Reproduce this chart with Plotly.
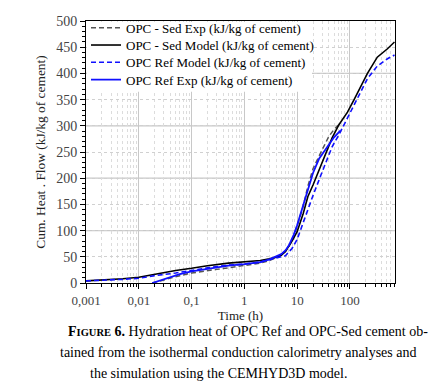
import math
import plotly.graph_objects as go

# ---- data ----
t_model = [0.001, 0.002, 0.005, 0.01, 0.02, 0.05, 0.1, 0.2, 0.5, 1, 2, 3, 4, 5, 6, 8,
           10, 13, 16, 20, 28, 35, 46, 62, 90, 120, 160, 215, 330, 515, 700]
sed_model = [4, 5.5, 8, 11, 17, 24, 28, 33, 38, 40, 43, 46, 49, 53, 60, 80,
             98, 132, 165, 187, 222, 245, 277, 302, 326, 350, 376, 400, 431, 447, 460]
ref_model = [4, 5, 7, 9, 14, 19, 24, 29, 34, 36, 40, 44, 47, 49, 52, 66,
             83, 115, 142, 167, 205, 229, 260, 283, 315, 340, 364, 390, 414, 428, 435]

t_exp = [0.018, 0.025, 0.04, 0.06, 0.1, 0.2, 0.3, 0.5, 1, 2, 3, 4, 5, 6, 7, 8.6,
         10, 13, 16, 20, 26, 33, 40, 50, 66]
ref_exp = [0, 5, 11, 17, 22, 27, 30, 33, 36, 40, 45, 50, 55, 62, 72, 92,
           110, 148, 180, 210, 237, 252, 265, 278, 291]
sed_exp = [0, 4, 9, 14, 19, 24, 26, 29, 33, 38, 43, 48, 53, 60, 70, 88,
           108, 146, 185, 218, 242, 262, 280, 293, 305]

x_tickvals = [0.001, 0.01, 0.1, 1, 10, 100]
x_ticktext = ["0,001", "0,01", "0,1", "1", "10", "100"]
x_minor = [k * 10 ** e for e in range(-3, 3) for k in range(2, 10)]
y_grid_major = [100, 200, 300, 400]

FONT = "Liberation Serif"
OFF = 8  # page body margin of the html page

series = [
    (t_exp, sed_exp, "OPC - Sed Exp (kJ/kg of cement)", dict(color="#555555", width=1.5, dash="5px,3px")),
    (t_model, sed_model, "OPC - Sed Model (kJ/kg of cement)", dict(color="#000000", width=1.6)),
    (t_model, ref_model, "OPC Ref Model (kJ/kg of cement)", dict(color="#1010ff", width=1.6, dash="5px,3px")),
    (t_exp, ref_exp, "OPC Ref Exp (kJ/kg of cement)", dict(color="#1010ff", width=1.8)),
]
legend_rows_px = [20, 37.8, 55.6, 73.4]

fig = go.Figure()
legend_layout = {}
for i, (xs, ys, name, line) in enumerate(series):
    key = "legend" if i == 0 else f"legend{i + 1}"
    fig.add_trace(go.Scatter(x=xs, y=ys, mode="lines", name=name, line=line, legend=key))
    legend_layout[key] = dict(
        x=0.0, y=(283 - legend_rows_px[i]) / 270, xanchor="left", yanchor="middle",
        bgcolor="rgba(0,0,0,0)", borderwidth=0,
        font=dict(family=FONT, size=13, color="#000"),
        tracegroupgap=0, itemwidth=30)

# white background behind the legend block
fig.add_shape(type="rect", xref="paper", yref="paper",
              x0=0.003, x1=(312 - 86) / 309, y0=(283 - 86) / 270, y1=(283 - 14) / 270,
              fillcolor="white", line=dict(width=0), layer="above")

for g in y_grid_major:
    fig.add_shape(type="line", xref="paper", yref="y", x0=0, x1=1, y0=g, y1=g,
                  line=dict(color="#c8c8c8", width=1.2), layer="below")

fig.update_xaxes(
    type="log", range=[-3, math.log10(715)],
    tickmode="array", tickvals=x_tickvals, ticktext=x_ticktext,
    ticks="outside", ticklen=5, tickcolor="#000", tickwidth=1,
    showgrid=True, gridcolor="#c8c8c8", gridwidth=1,
    minor=dict(tickmode="array", tickvals=x_minor, ticks="outside", ticklen=3,
               tickcolor="#000", showgrid=True, gridcolor="#dcdcdc", griddash="dot"),
    showline=True, linecolor="#000", linewidth=1, mirror=True,
    zeroline=False, ticklabeloverflow="allow",
    title=dict(text="Time (h)", font=dict(family=FONT, size=13, color="#222"), standoff=4),
    tickfont=dict(family=FONT, size=13, color="#444"),
)
fig.update_yaxes(
    range=[0, 500], dtick=50,
    ticks="outside", ticklen=5, tickcolor="#000", tickwidth=1,
    showgrid=True, gridcolor="#d0d0d0", griddash="dot",
    minor=dict(dtick=10, ticks="outside", ticklen=3, tickcolor="#000", showgrid=False),
    showline=True, linecolor="#000", linewidth=1, mirror=True,
    zeroline=False, ticklabeloverflow="allow",
    title=dict(text="Cum. Heat . Flow (kJ/kg of cement)",
               font=dict(family=FONT, size=13.4, color="#222"), standoff=7),
    tickfont=dict(family=FONT, size=14, color="#444"),
)

caption_lines = [
    ("<b>F<span style='font-size:10.5px'>IGURE</span> 6.</b> Hydration heat of OPC Ref and OPC-Sed cement ob-", 248, 333),
    ("tained from the isothermal conduction calorimetry analyses and", 238, 355),
    ("the simulation using the CEMHYD3D model.", 218, 376),
]
for txt, cx, cy in caption_lines:
    fig.add_annotation(text=txt, xref="paper", yref="paper",
                       x=(cx - 86) / 309, y=(283 - cy) / 270,
                       xanchor="center", yanchor="middle", showarrow=False,
                       font=dict(family=FONT, size=14, color="#000"))

fig.update_layout(
    width=444 - OFF, height=392 - OFF,
    margin=dict(l=86 - OFF, r=49, t=13 - OFF, b=109),
    paper_bgcolor="white", plot_bgcolor="white",
    font=dict(family=FONT, color="#000"),
    showlegend=True,
    **legend_layout,
)

fig.write_html("out.html")
